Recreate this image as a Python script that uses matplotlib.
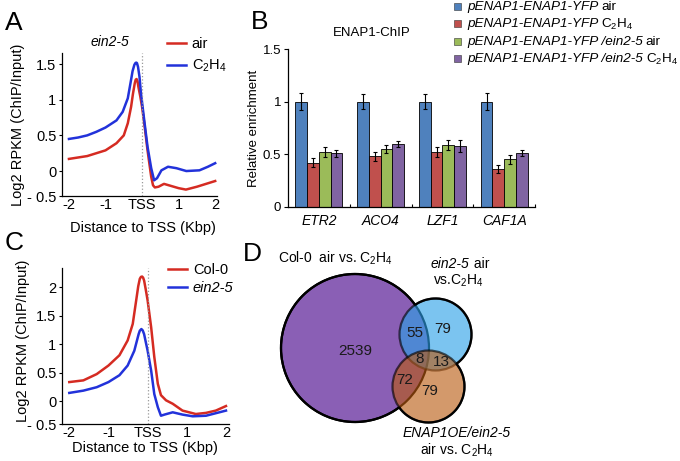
import numpy as np
import matplotlib
matplotlib.use('Agg')
import matplotlib.pyplot as plt
from matplotlib.colors import to_rgba
from matplotlib.patches import Circle, Rectangle

plt.rcParams['font.family'] = 'Liberation Sans'
plt.rcParams['mathtext.fontset'] = 'custom'
plt.rcParams['mathtext.rm'] = 'Liberation Sans'
plt.rcParams['mathtext.it'] = 'Liberation Sans:italic'

W, H = 680, 461
C2H4 = r'C$_2$H$_4$'

# ---- data: panel A (ein2-5, air vs C2H4) ----
a_air_x = [-2, -1.75, -1.5, -1.25, -1, -0.7, -0.5, -0.39, -0.3, -0.25, -0.2, -0.175, -0.15, -0.125,
           -0.1, -0.05, 0, 0.06, 0.15, 0.25, 0.3, 0.35, 0.45, 0.6, 0.8, 1.0, 1.2, 1.5, 1.75, 2.0]
a_air_y = [0.17, 0.19, 0.21, 0.25, 0.29, 0.39, 0.50, 0.67, 0.90, 1.08, 1.23, 1.28, 1.29, 1.26,
           1.18, 1.05, 0.90, 0.67, 0.29, -0.08, -0.20, -0.23, -0.22, -0.18, -0.21, -0.24, -0.26,
           -0.22, -0.18, -0.14]
a_eth_x = [-2, -1.75, -1.5, -1.25, -1, -0.7, -0.53, -0.39, -0.3, -0.26, -0.21, -0.18, -0.16, -0.14,
           -0.11, -0.07, -0.03, 0.06, 0.15, 0.25, 0.33, 0.41, 0.53, 0.71, 0.94, 1.21, 1.57, 1.8, 2.0]
a_eth_y = [0.45, 0.47, 0.50, 0.55, 0.61, 0.71, 0.83, 1.02, 1.28, 1.40, 1.49, 1.515, 1.52, 1.515,
           1.46, 1.32, 1.09, 0.71, 0.34, 0.04, -0.13, -0.10, 0.01, 0.06, 0.04, 0.0, 0.01, 0.06, 0.11]

# ---- data: panel C (Col-0 vs ein2-5) ----
c_col_x = [-2, -1.64, -1.3, -1, -0.72, -0.51, -0.38, -0.28, -0.24, -0.2, -0.17, -0.14, -0.115,
           -0.09, -0.05, 0, 0.09, 0.17, 0.26, 0.34, 0.47, 0.64, 0.89, 1.23, 1.49, 1.74, 2]
c_col_y = [0.34, 0.37, 0.48, 0.63, 0.81, 1.07, 1.36, 1.83, 2.02, 2.15, 2.185, 2.19, 2.17,
           2.12, 1.97, 1.77, 1.30, 0.78, 0.31, 0.11, 0.02, -0.04, -0.16, -0.22, -0.20, -0.16, -0.08]
c_ein_x = [-2, -1.64, -1.3, -1, -0.72, -0.51, -0.34, -0.23, -0.2, -0.16, -0.125, -0.09, -0.05, 0,
           0.09, 0.17, 0.26, 0.34, 0.43, 0.64, 0.89, 1.15, 1.49, 2]
c_ein_y = [0.15, 0.19, 0.25, 0.34, 0.46, 0.63, 0.89, 1.18, 1.24, 1.27, 1.245, 1.18, 1.05, 0.89,
           0.54, 0.13, -0.10, -0.25, -0.23, -0.19, -0.23, -0.26, -0.25, -0.16]

# ---- data: panel B (ENAP1-ChIP) ----
genes = ['ETR2', 'ACO4', 'LZF1', 'CAF1A']
wt_air = [1.0, 1.0, 1.0, 1.0]
wt_air_err = [0.08, 0.07, 0.07, 0.08]
wt_eth = [0.42, 0.48, 0.52, 0.36]
wt_eth_err = [0.045, 0.045, 0.045, 0.035]
ein_air = [0.52, 0.55, 0.59, 0.45]
ein_air_err = [0.045, 0.04, 0.05, 0.04]
ein_eth = [0.51, 0.60, 0.58, 0.51]
ein_eth_err = [0.035, 0.03, 0.055, 0.03]
bar_colors = ['#4F81BD', '#C0504D', '#9BBB59', '#8064A2']
leg_italic = ['pENAP1-ENAP1-YFP', 'pENAP1-ENAP1-YFP', 'pENAP1-ENAP1-YFP /ein2-5', 'pENAP1-ENAP1-YFP /ein2-5']
leg_plain = ['air', C2H4, 'air', C2H4]

# ---- data: panel D (Venn counts) ----
venn_counts = {'col': 2539, 'col_ein': 55, 'ein': 79, 'all': 8, 'ein_oe': 13, 'col_oe': 72, 'oe': 79}

RED = '#D52B22'
BLUE = '#2232DA'

fig = plt.figure(figsize=(W / 100, H / 100), dpi=100)
renderer = fig.canvas.get_renderer()


def box(l, t, r, b):
    return [l / W, 1 - b / H, (r - l) / W, (b - t) / H]


def fpos(x, y):
    return x / W, 1 - y / H


def style_line_ax(ax):
    for s in ['top', 'right']:
        ax.spines[s].set_visible(False)
    for s in ['left', 'bottom']:
        ax.spines[s].set_linewidth(0.9)
    ax.tick_params(axis='y', labelsize=10.5, length=2.5, width=0.8, pad=1.5)
    ax.tick_params(axis='x', labelsize=10.5, length=0, pad=1.5)


# ---------------- Panel A ----------------
axA = fig.add_axes(box(62, 53, 217, 196))
axA.plot(a_air_x, a_air_y, color=RED, lw=1.8, label='air')
axA.plot(a_eth_x, a_eth_y, color=BLUE, lw=1.8, label=C2H4)
axA.axvline(0, color='#999999', ls=':', lw=0.9)
axA.set_xlim(-2.19, 2.05)
axA.set_ylim(-0.35, 1.655)
axA.set_xticks([-2, -1, 0, 1, 2], ['-2', '-1', 'TSS', '1', '2'])
axA.set_yticks([-0.35, 0, 0.5, 1, 1.5], ['- 0.5', '0', '0.5', '1', '1.5'])
style_line_ax(axA)
axA.legend(loc='upper left', bbox_to_anchor=(0.64, 1.15), frameon=False, fontsize=10.5,
           handlelength=1.3, handletextpad=0.4, labelspacing=0.45, borderaxespad=0)
axA.text(0.31, 1.08, 'ein2-5', transform=axA.transAxes, fontsize=10, style='italic',
         ha='center', va='center')

# ---------------- Panel C ----------------
axC = fig.add_axes(box(62, 268, 229, 424))
axC.plot(c_col_x, c_col_y, color=RED, lw=1.8, label='Col-0')
axC.plot(c_ein_x, c_ein_y, color=BLUE, lw=1.8, label='ein2-5')
axC.axvline(0, color='#999999', ls=':', lw=0.9)
axC.set_xlim(-2.186, 2.077)
axC.set_ylim(-0.395, 2.34)
axC.set_xticks([-2, -1, 0, 1, 2], ['-2', '-1', 'TSS', '1', '2'])
axC.set_yticks([-0.395, 0, 0.5, 1, 1.5, 2], ['- 0.5', '0', '0.5', '1', '1.5', '2'])
style_line_ax(axC)
legC = axC.legend(loc='upper left', bbox_to_anchor=(0.6, 1.07), frameon=False, fontsize=10.5,
                  handlelength=1.3, handletextpad=0.4, labelspacing=0.3, borderaxespad=0)
legC.get_texts()[1].set_fontstyle('italic')

for (xl, yl), (xx, yx) in [((18, 125), (143, 228)), ((23, 341), (145, 448))]:
    fig.text(*fpos(xl, yl), 'Log2 RPKM (ChIP/Input)', rotation=90, ha='center', va='center', fontsize=10.5)
    fig.text(*fpos(xx, yx), 'Distance to TSS (Kbp)', ha='center', va='center', fontsize=10.5)

# ---------------- Panel B ----------------
axB = fig.add_axes(box(288, 49.3, 535, 206.7))
x = np.arange(len(genes))
bw = 0.19
series = [(wt_air, wt_air_err), (wt_eth, wt_eth_err), (ein_air, ein_air_err), (ein_eth, ein_eth_err)]
for i, (vals, errs) in enumerate(series):
    axB.bar(x + (i - 1.5) * bw, vals, bw, yerr=errs, color=bar_colors[i], edgecolor='black',
            linewidth=0.6, error_kw=dict(ecolor='black', elinewidth=0.8, capsize=1.5, capthick=0.8))
axB.set_xlim(-0.5, 3.5)
axB.set_ylim(0, 1.5)
axB.set_yticks([0, 0.5, 1, 1.5], ['0', '0.5', '1', '1.5'])
axB.set_xticks(x, genes, style='italic', fontsize=10)
axB.set_xticks([0.5, 1.5, 2.5, 3.5], minor=True)
axB.tick_params(axis='x', which='major', length=0, pad=5)
axB.tick_params(axis='x', which='minor', length=2, width=0.8, direction='in')
axB.tick_params(axis='y', labelsize=9.5, length=3, width=0.8, pad=2)
for s in ['top', 'right']:
    axB.spines[s].set_visible(False)
for s in ['left', 'bottom']:
    axB.spines[s].set_linewidth(0.9)
axB.set_ylabel('Relative enrichment', fontsize=9.5, labelpad=1.5)
fig.text(*fpos(372, 33), 'ENAP1-ChIP', ha='center', va='center', fontsize=9.5)

# legend of panel B, built by hand for mixed italic/upright labels
for i, yrow in enumerate([7, 24, 42, 59]):
    fig.patches.append(Rectangle(fpos(454.5, yrow + 3.5), 7 / W, 7 / H, transform=fig.transFigure,
                                 facecolor=bar_colors[i], edgecolor='#333333', linewidth=0.4))
    t1 = fig.text(*fpos(467, yrow), leg_italic[i], style='italic', fontsize=9.7, va='center')
    bb = t1.get_window_extent(renderer)
    fig.text((bb.x1 + 3) / W, 1 - yrow / H, leg_plain[i], fontsize=9.7, va='center')

# ---------------- Panel D (Venn) ----------------
axD = fig.add_axes(box(245, 240, 520, 461))
axD.set_xlim(245, 520)
axD.set_ylim(461, 240)
axD.axis('off')
circles = [((355, 348), 74, '#8A5FB5', 1.0),
           ((435.5, 334.5), 36, '#2BA0E7', 0.62),
           ((428.5, 386.5), 36, '#B95A10', 0.62)]
for (cx, cy), r, col, a in circles:
    axD.add_patch(Circle((cx, cy), r, facecolor=to_rgba(col, a), edgecolor=(0, 0, 0, a), linewidth=1.6))
# outer outline in solid black
th = np.linspace(0, 2 * np.pi, 720)
for i, ((cx, cy), r, _, _) in enumerate(circles):
    px = cx + r * np.cos(th)
    py = cy + r * np.sin(th)
    inside = np.zeros_like(th, dtype=bool)
    for j, ((ox, oy), orr, _, _) in enumerate(circles):
        if j != i:
            inside |= (px - ox) ** 2 + (py - oy) ** 2 < (orr - 0.3) ** 2
    axD.plot(np.ma.masked_where(inside, px), np.ma.masked_where(inside, py), color='black', lw=1.6,
             solid_capstyle='butt')

num_pos = {'col': (355, 351), 'col_ein': (415, 333), 'ein': (443, 329), 'all': (420, 359),
           'ein_oe': (441, 362), 'col_oe': (405, 380), 'oe': (430, 391)}
for k, v in venn_counts.items():
    axD.text(*num_pos[k], str(v), ha='center', va='center', fontsize=11, color='#1a1a1a')

axD.text(278, 258, 'Col-0  air vs. ' + C2H4, ha='left', va='center', fontsize=10)
t_it = axD.text(431, 264, 'ein2-5', ha='left', va='center', fontsize=10, style='italic')
bb = t_it.get_window_extent(renderer)
x_after = axD.transData.inverted().transform((bb.x1, bb.y0))[0]
axD.text(x_after, 264, ' air', ha='left', va='center', fontsize=10)
axD.text(458, 281, 'vs.' + C2H4, ha='center', va='center', fontsize=10)
axD.text(457, 433, 'ENAP1OE/ein2-5', ha='center', va='center', fontsize=10, style='italic')
axD.text(457, 450, 'air vs. ' + C2H4, ha='center', va='center', fontsize=10)

# panel letters
for letter, (lx, ly) in zip('ABCD', [(14, 23), (260, 22), (14, 243), (252, 254)]):
    fig.text(*fpos(lx, ly), letter, fontsize=19, ha='center', va='center')

fig.savefig('out.png', dpi=100)
